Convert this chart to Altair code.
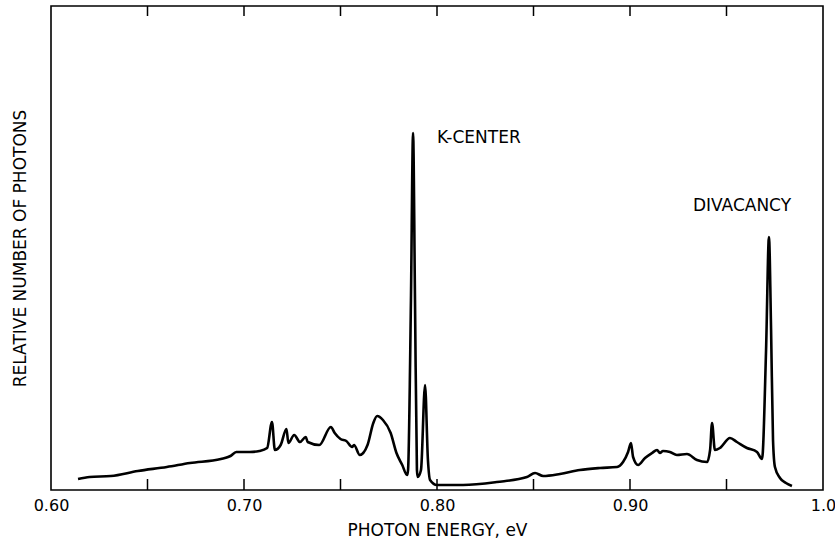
import altair as alt
import pandas as pd

# Photon energy (eV) and relative number of photons (arbitrary units)
energy = [0.614, 0.620, 0.631, 0.645, 0.660, 0.672, 0.688, 0.693, 0.696, 0.703,
          0.708, 0.712, 0.7145, 0.716, 0.719, 0.722, 0.723, 0.726, 0.729, 0.732,
          0.733, 0.739, 0.745, 0.747, 0.750, 0.753, 0.756, 0.757, 0.760, 0.764,
          0.767, 0.769, 0.772, 0.776, 0.779, 0.782, 0.7845, 0.785, 0.7865, 0.7876,
          0.7886, 0.7896, 0.790, 0.7917, 0.7938, 0.7953, 0.7964, 0.800, 0.8135, 0.831,
          0.8466, 0.8508, 0.855, 0.8637, 0.874, 0.8845, 0.8933, 0.8964, 0.899, 0.9005,
          0.9016, 0.9042, 0.9078, 0.9114, 0.914, 0.9155, 0.9171, 0.9207, 0.9243, 0.9295,
          0.9347, 0.9399, 0.9415, 0.9425, 0.944, 0.9466, 0.9518, 0.9554, 0.9606, 0.9658,
          0.9684, 0.9705, 0.972, 0.9731, 0.9741, 0.9751, 0.9777, 0.9808, 0.9839]
photons = [11, 13, 14, 19, 23, 27, 31, 34, 38, 38,
           39, 42, 68, 40, 45, 61, 47, 55, 48, 53,
           48, 45, 63, 57, 51, 49, 43, 45, 35, 45,
           67, 74, 70, 57, 37, 25, 15, 20, 190, 357,
           190, 20, 13, 20, 105, 30, 10, 5, 5, 8,
           13, 17, 14, 16, 20, 22, 23, 28, 38, 47,
           33, 25, 32, 37, 40, 37, 39, 38, 35, 36,
           30, 28, 40, 67, 40, 42, 52, 48, 42, 38,
           31, 140, 253, 160, 50, 23, 12, 7, 4]

tick_values = [0.65, 0.70, 0.75, 0.80, 0.85, 0.90, 0.95]
label_values = [0.6, 0.7, 0.8, 0.9, 1.0]

ann_text = ["K-CENTER", "DIVACANCY"]
ann_x = [0.800, 0.9326]
ann_y = [352, 284]

FONT = "DejaVu Sans"

df = pd.DataFrame({"energy": energy, "photons": photons})
ticks = pd.DataFrame({"t": tick_values})
ann = pd.DataFrame({"text": ann_text, "x": ann_x, "y": ann_y})

xscale = alt.Scale(domain=[0.6, 1.0], nice=False, zero=False)
yscale = alt.Scale(domain=[0, 484], nice=False, zero=True)

line = alt.Chart(df).mark_line(color="black", strokeWidth=2.6, interpolate="monotone").encode(
    x=alt.X("energy:Q", scale=xscale,
            axis=alt.Axis(title="PHOTON ENERGY, eV", values=label_values,
                          labelExpr="datum.value == 1 ? '1.0' : format(datum.value, '.2f')",
                          ticks=False, domain=False, grid=False, labelFlush=False,
                          labelPadding=7, titlePadding=9,
                          labelFont=FONT, labelFontSize=16, labelColor="black",
                          titleFont=FONT, titleFontSize=17, titleFontWeight="normal",
                          titleColor="black")),
    y=alt.Y("photons:Q", scale=yscale,
            axis=alt.Axis(title="RELATIVE NUMBER OF PHOTONS", labels=False, ticks=False,
                          domain=False, grid=False, titlePadding=22,
                          titleFont=FONT, titleFontSize=17, titleFontWeight="normal",
                          titleColor="black")),
)

bottom_ticks = alt.Chart(ticks).mark_rule(color="black", strokeWidth=1.5).encode(
    x=alt.X("t:Q", scale=xscale), y=alt.value(484), y2=alt.value(473))
top_ticks = alt.Chart(ticks).mark_rule(color="black", strokeWidth=1.5).encode(
    x=alt.X("t:Q", scale=xscale), y=alt.value(0), y2=alt.value(10))

labels = alt.Chart(ann).mark_text(align="left", baseline="middle", font=FONT,
                                  fontSize=17, color="black").encode(
    x=alt.X("x:Q", scale=xscale), y=alt.Y("y:Q", scale=yscale), text="text:N")

chart = alt.layer(line, bottom_ticks, top_ticks, labels).properties(
    width=772, height=484,
    autosize=alt.AutoSizeParams(type="none"),
    padding={"left": 51, "top": 6, "right": 12, "bottom": 59},
    background="white",
).configure_view(stroke="black", strokeWidth=1.6)

chart.save("out.html", embed_options={"renderer": "svg", "actions": False})
